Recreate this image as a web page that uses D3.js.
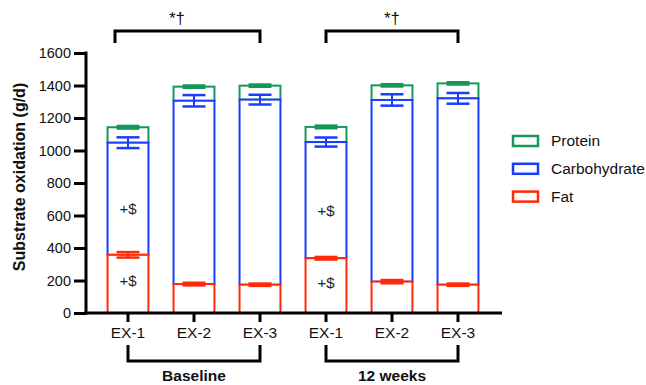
<!DOCTYPE html>
<html>
<head>
<meta charset="utf-8">
<script src="https://cdn.jsdelivr.net/npm/d3@7"></script>
<style>
  html, body { margin: 0; padding: 0; background: #fff; }
  svg { display: block; font-family: "Liberation Sans", Arial, sans-serif; }
</style>
</head>
<body>
<svg id="chart" width="646" height="385"></svg>
<script>
// ---- data ----
const categories = ["EX-1", "EX-2", "EX-3", "EX-1 ", "EX-2 ", "EX-3 "];
const tickLabels = ["EX-1", "EX-2", "EX-3", "EX-1", "EX-2", "EX-3"];
const groups = ["Baseline", "12 weeks"];
const fat = [358, 178, 174, 337, 193, 174];
const carbohydrate = [690, 1128, 1139, 715, 1118, 1147];
const protein = [95, 87, 86, 93, 90, 92];
const fatErr = [17, 8, 7, 8, 10, 7];
const carbErr = [33, 35, 30, 28, 35, 33];
const protErr = [8, 7, 7, 8, 7, 7];
const yTicks = [0, 200, 400, 600, 800, 1000, 1200, 1400, 1600];
const seriesNames = ["Protein", "Carbohydrate", "Fat"];
const colors = { Protein: "#14985a", Carbohydrate: "#1a3cff", Fat: "#ff2a0a" };

const svg = d3.select("#chart");

const x = d3.scaleBand().domain(categories).range([95, 491]).paddingInner(0.35).paddingOuter(0.175);
const y = d3.scaleLinear().domain([0, 1600]).range([313, 53]);
const axisX0 = 86, axisX1 = 502;

// stacked segments (top segments first so lower segment outlines sit on top)
const segs = [];
categories.forEach((c, i) => {
  const f1 = fat[i];
  const c1 = f1 + carbohydrate[i];
  const p1 = c1 + protein[i];
  segs.push({ cat: c, s: "Protein", y0: c1, y1: p1, err: protErr[i] });
  segs.push({ cat: c, s: "Carbohydrate", y0: f1, y1: c1, err: carbErr[i] });
  segs.push({ cat: c, s: "Fat", y0: 0, y1: f1, err: fatErr[i] });
});

const bw = x.bandwidth();
svg.append("g").selectAll("rect").data(segs).join("rect")
  .attr("x", d => x(d.cat) + 1)
  .attr("width", bw - 2)
  .attr("y", d => y(d.y1))
  .attr("height", d => y(d.y0) - y(d.y1))
  .attr("fill", "#fff")
  .attr("stroke", d => colors[d.s])
  .attr("stroke-width", 2);

// error bars
const capW = 23;
const eg = svg.append("g");
segs.forEach(d => {
  const cx = x(d.cat) + bw / 2;
  const col = colors[d.s];
  const yt = y(d.y1 + d.err), yb = y(d.y1 - d.err);
  eg.append("line").attr("x1", cx).attr("x2", cx).attr("y1", yt).attr("y2", yb)
    .attr("stroke", col).attr("stroke-width", 2);
  [yt, yb].forEach(yy => eg.append("line")
    .attr("x1", cx - capW / 2).attr("x2", cx + capW / 2)
    .attr("y1", yy).attr("y2", yy)
    .attr("stroke", col).attr("stroke-width", 2.5));
});

// significance markers "+$" inside EX-1 bars
[0, 3].forEach(i => {
  const cx = x(categories[i]) + bw / 2;
  [fat[i] + carbohydrate[i] * 0.41, fat[i] * 0.56].forEach(v => {
    svg.append("text").attr("x", cx).attr("y", y(v)).attr("dy", "0.35em")
      .attr("text-anchor", "middle").attr("font-size", 15).attr("fill", "#222").text("+$");
  });
});

// y axis
const yAxis = svg.append("g").attr("transform", `translate(${axisX0},0)`)
  .call(d3.axisLeft(y).tickValues(yTicks).tickFormat(d3.format("d")).tickSize(12).tickSizeOuter(0).tickPadding(3));
yAxis.select(".domain").remove();
yAxis.selectAll(".tick line").attr("stroke", "#000").attr("stroke-width", 3);
yAxis.selectAll(".tick text").attr("font-size", 14.5).attr("fill", "#111")
  .attr("font-family", "Liberation Sans, Arial, sans-serif");
svg.append("line").attr("x1", axisX0).attr("x2", axisX0).attr("y1", y(1600) - 1.5).attr("y2", y(0) + 1.5)
  .attr("stroke", "#000").attr("stroke-width", 3);

// x axis
const xAxis = svg.append("g").attr("transform", `translate(0,${y(0)})`)
  .call(d3.axisBottom(x).tickSize(9).tickSizeOuter(0).tickPadding(5).tickFormat((d, i) => tickLabels[i]));
xAxis.select(".domain").remove();
xAxis.selectAll(".tick line").attr("stroke", "#000").attr("stroke-width", 3);
xAxis.selectAll(".tick text").attr("font-size", 15.5).attr("fill", "#111")
  .attr("font-family", "Liberation Sans, Arial, sans-serif");
svg.append("line").attr("x1", axisX0 - 1.5).attr("x2", axisX1).attr("y1", y(0)).attr("y2", y(0))
  .attr("stroke", "#000").attr("stroke-width", 3);

// y axis title
svg.append("text").attr("transform", `translate(19,177) rotate(-90)`)
  .attr("text-anchor", "middle").attr("dy", "0.35em").attr("font-size", 16).attr("font-weight", "bold").attr("fill", "#111")
  .text("Substrate oxidation (g/d)");

// group brackets below
groups.forEach((g, gi) => {
  const a = x(categories[gi * 3]) + bw / 2, b = x(categories[gi * 3 + 2]) + bw / 2;
  svg.append("path").attr("d", `M${a},345 V361 H${b} V345`)
    .attr("fill", "none").attr("stroke", "#000").attr("stroke-width", 3);
  svg.append("text").attr("x", (a + b) / 2).attr("y", 381).attr("text-anchor", "middle")
    .attr("font-size", 15.5).attr("font-weight", "bold").attr("fill", "#111").text(g);
});

// significance brackets on top
groups.forEach((g, gi) => {
  let a = x(categories[gi * 3]) + bw / 2, b = x(categories[gi * 3 + 2]) + bw / 2;
  let tx = (a + b) / 2;
  if (gi === 0) { a -= 13; tx -= 17; }
  svg.append("path").attr("d", `M${a},43 V31 H${b} V43`)
    .attr("fill", "none").attr("stroke", "#000").attr("stroke-width", 3);
  svg.append("text").attr("x", tx).attr("y", 24).attr("text-anchor", "middle")
    .attr("font-size", 17).attr("fill", "#111").text("*†");
});

// legend
const lg = svg.append("g");
seriesNames.forEach((s, i) => {
  const cy = 141 + i * 27.8;
  lg.append("rect").attr("x", 513).attr("y", cy - 5).attr("width", 25).attr("height", 10)
    .attr("fill", "#fff").attr("stroke", colors[s]).attr("stroke-width", 2.5);
  lg.append("text").attr("x", 551).attr("y", cy).attr("dy", "0.35em")
    .attr("font-size", 15.5).attr("fill", "#111").text(s);
});
</script>
</body>
</html>
